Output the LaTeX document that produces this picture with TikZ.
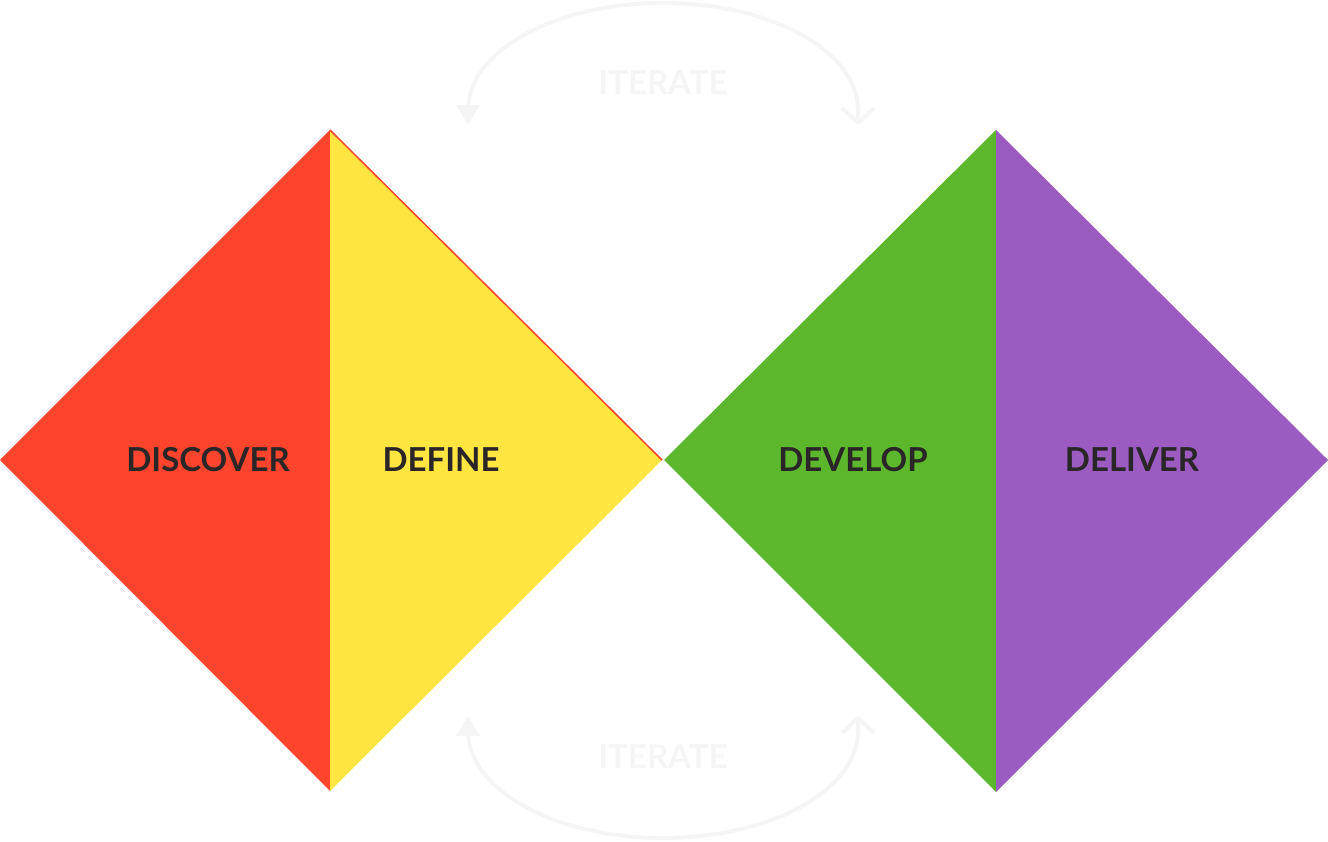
\documentclass[tikz,border=0pt]{standalone}
\usepackage{fontspec}
\setmainfont{Lato}
\usepackage{tikz}
\usetikzlibrary{arrows.meta}
\usetikzlibrary{calc}
\definecolor{discred}{HTML}{FF442E}
\definecolor{defyellow}{HTML}{FFE53F}
\definecolor{devgreen}{HTML}{5DB72C}
\definecolor{delpurple}{HTML}{9B5BC0}
\definecolor{labelgray}{HTML}{2A2628}
\definecolor{itergray}{HTML}{F5F5F5}
\begin{document}
\begin{tikzpicture}[x=1pt,y=1pt,
    phase/.style={font=\fontsize{33}{33}\selectfont\bfseries,text=labelgray,anchor=center},
    iterlabel/.style={font=\fontsize{33}{33}\selectfont\bfseries,text=itergray,anchor=center},
    iterloop/.style={draw=itergray,line width=4pt,
      {Triangle[length=20pt,width=23pt]}-{Straight Barb[length=14pt,width=30pt,line width=4pt,round]}}]
  \useasboundingbox (0,0) rectangle (1328,841);
  % left diamond
  \coordinate (l-w) at (0,381);
  \coordinate (l-n) at (330,711);
  \coordinate (l-s) at (330,50);
  \coordinate (l-e) at (662,381);
  \fill[discred] (l-w) -- (l-n) -- (l-s) -- cycle;
  \fill[defyellow] (l-n) -- (l-e) -- (l-s) -- cycle;
  \draw[discred,line width=1.5pt] (l-n) -- (l-e);
  % right diamond
  \coordinate (r-w) at (664,381);
  \coordinate (r-n) at (996,711);
  \coordinate (r-s) at (996,49);
  \coordinate (r-e) at (1328,381);
  \fill[devgreen] (r-w) -- (r-n) -- (r-s) -- cycle;
  \fill[delpurple] (r-n) -- (r-e) -- (r-s) -- cycle;
  \node[phase] (discover) at (208,381) {DISCOVER};
  \node[phase] (define) at (441,381) {DEFINE};
  \node[phase] (develop) at (853,381) {DEVELOP};
  \node[phase] (deliver) at (1132,381) {DELIVER};
  % iterate loops
  \coordinate (top-a) at (468,716);
  \coordinate (top-b) at (858,716);
  \coordinate (bot-a) at (468,125);
  \coordinate (bot-b) at (858,125);
  \draw[iterloop] (top-a) -- ++(0,15) arc[start angle=180,end angle=0,x radius=195,y radius=107] -- (top-b);
  \draw[iterloop] (bot-a) -- ++(0,-15) arc[start angle=180,end angle=360,x radius=195,y radius=107] -- (bot-b);
  \node[iterlabel] (iter-top) at (663,758) {ITERATE};
  \node[iterlabel] (iter-bot) at (663,84) {ITERATE};
\end{tikzpicture}
\end{document}
